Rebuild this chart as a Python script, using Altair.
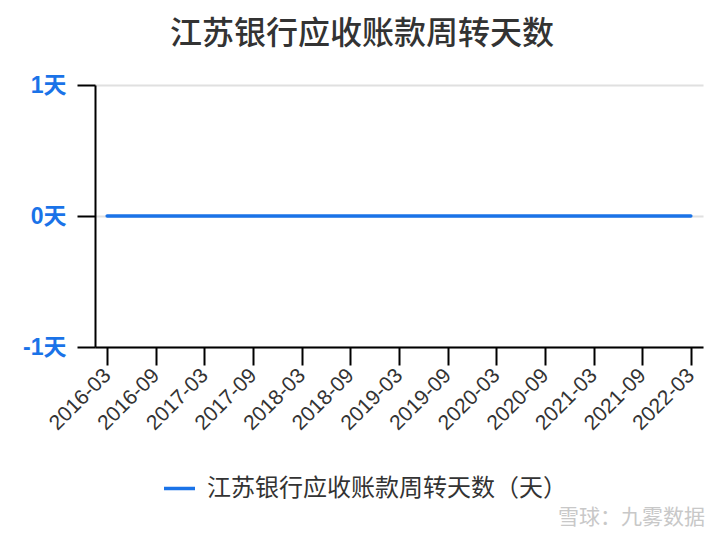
import altair as alt
import pandas as pd

# 报告期与应收账款周转天数（天）
periods = ['2016-03', '2016-09', '2017-03', '2017-09', '2018-03', '2018-09', '2019-03',
           '2019-09', '2020-03', '2020-09', '2021-03', '2021-09', '2022-03']
days = [0, 0, 0, 0, 0, 0, 0, 0, 0, 0, 0, 0, 0]
series_name = '江苏银行应收账款周转天数（天）'
chart_title = '江苏银行应收账款周转天数'
watermark = '雪球：九雾数据'
y_ticks = [-1, 0, 1]

blue = '#1a73e8'
dark = '#333333'
font = 'Liberation Sans, Noto Sans CJK SC'

df = pd.DataFrame({'period': periods, 'days': days, 'series': series_name})

line = alt.Chart(df).mark_line(strokeWidth=3.5, strokeCap='round').encode(
    x=alt.X('period:O', sort=periods,
            scale=alt.Scale(type='point', padding=0.25),
            axis=alt.Axis(title=None, labelAngle=-45, labelAlign='right',
                          labelBaseline='middle', labelFontSize=21, labelColor=dark,
                          labelFont=font, labelPadding=7, tickSize=18, tickWidth=2,
                          tickColor='black', domainColor='black', domainWidth=2,
                          grid=False)),
    y=alt.Y('days:Q', scale=alt.Scale(domain=[-1, 1], nice=False),
            axis=alt.Axis(title=None, values=y_ticks,
                          labelExpr="datum.value + '天'",
                          labelFontSize=23, labelFontWeight='bold', labelColor=blue,
                          labelFont=font, labelPadding=11, tickSize=18, tickWidth=2,
                          tickColor='black', domainColor='black', domainWidth=2,
                          grid=True, gridColor='#e0e0e0', gridWidth=2)),
    color=alt.Color('series:N', scale=alt.Scale(range=[blue]),
                    legend=alt.Legend(title=None, orient='none', legendX=67, legendY=386,
                                      symbolType='stroke', symbolSize=961,
                                      symbolStrokeWidth=3.5, labelFontSize=24,
                                      labelColor=dark, labelFont=font, labelLimit=600,
                                      labelOffset=10))
)

mark = alt.Chart(pd.DataFrame({'t': [watermark]})).mark_text(
    align='right', baseline='middle', fontSize=21, color='#c8c8c8', font=font
).encode(text='t:N', x=alt.value(610), y=alt.value(433))

chart = (line + mark).properties(
    width=608,
    height=262,
    title=alt.TitleParams(chart_title, fontSize=32, fontWeight=500, color=dark,
                          font=font, anchor='middle', dx=-37, offset=23),
    autosize=alt.AutoSizeParams(type='none'),
    padding={'left': 87, 'top': 77, 'right': 13, 'bottom': 185},
).configure_view(stroke=None)

chart.save("out.html", embed_options={"renderer": "svg", "actions": False})
